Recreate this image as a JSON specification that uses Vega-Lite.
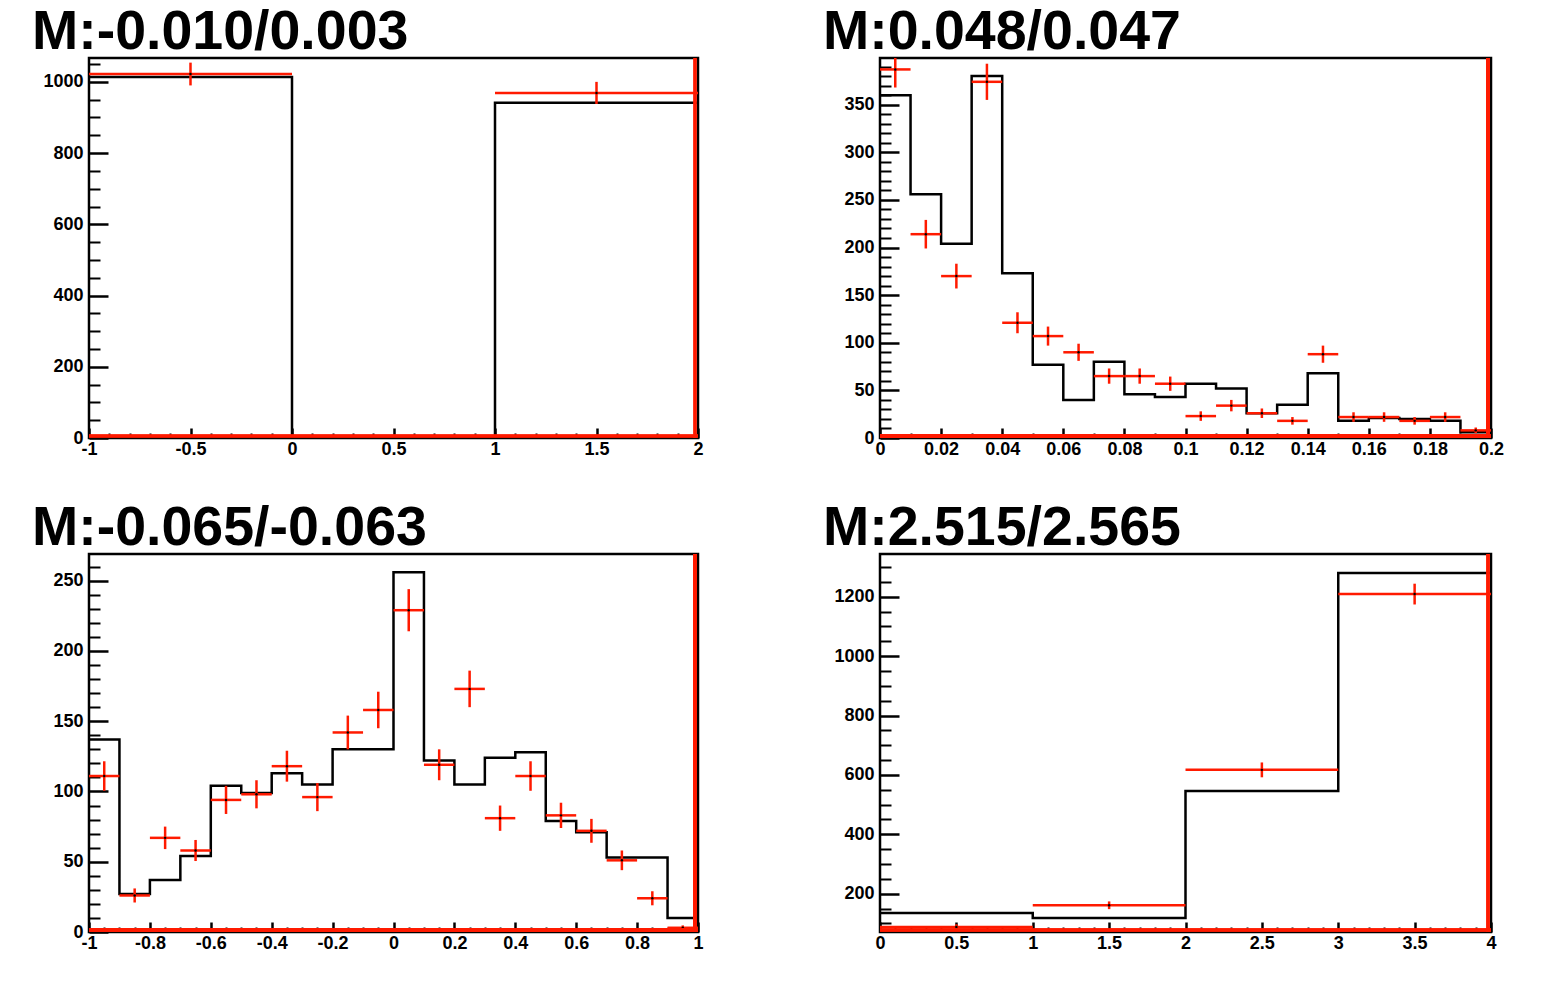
{
  "$schema": "https://vega.github.io/schema/vega-lite/v6.json",
  "background": "white",
  "padding": {"left": 30, "top": 3, "right": 5, "bottom": 5},
  "autosize": {"type": "pad"},
  "columns": 2,
  "spacing": {"row": 116, "column": 182},
  "bounds": "flush",
  "config": {
    "locale": {"number": {"decimal": ".", "thousands": ",", "grouping": [3], "currency": ["", ""], "minus": "-"}},
    "view": {"stroke": "black", "strokeWidth": 2.5},
    "axis": {
      "domain": false, "grid": false, "title": null,
      "labelFont": "Liberation Sans", "labelFontSize": 18, "labelFontWeight": "bold", "labelColor": "black",
      "labelFlush": false, "labelOverlap": false,
      "tickColor": "black", "tickWidth": 2.5, "format": ".6~g"
    },
    "title": {"font": "Liberation Sans", "fontSize": 55.5, "fontWeight": "bold", "color": "black", "anchor": "start", "frame": "group", "baseline": "alphabetic", "offset": -4, "dx": -57}
  },
  "datasets": {
    "p1": [
      {"lo": -1, "hi": 0, "x": -0.5, "mc": 1014, "data": 1022, "dlo": 990, "dhi": 1054},
      {"lo": 0, "hi": 1, "x": 0.5, "mc": 0, "data": 0, "dlo": 0, "dhi": 0},
      {"lo": 1, "hi": 2, "x": 1.5, "mc": 941, "data": 969, "dlo": 938, "dhi": 1000}
    ],
    "p2": [
      {"lo": 0, "hi": 0.01, "x": 0.005, "mc": 360, "data": 387, "dlo": 368, "dhi": 406},
      {"lo": 0.01, "hi": 0.02, "x": 0.015, "mc": 256, "data": 214, "dlo": 199, "dhi": 229},
      {"lo": 0.02, "hi": 0.03, "x": 0.025, "mc": 204, "data": 170, "dlo": 157, "dhi": 183},
      {"lo": 0.03, "hi": 0.04, "x": 0.035, "mc": 380, "data": 374, "dlo": 355, "dhi": 393},
      {"lo": 0.04, "hi": 0.05, "x": 0.045, "mc": 173, "data": 121, "dlo": 110, "dhi": 132},
      {"lo": 0.05, "hi": 0.06, "x": 0.055, "mc": 77, "data": 107, "dlo": 97, "dhi": 117},
      {"lo": 0.06, "hi": 0.07, "x": 0.065, "mc": 40, "data": 90, "dlo": 81, "dhi": 99},
      {"lo": 0.07, "hi": 0.08, "x": 0.075, "mc": 80, "data": 65, "dlo": 57, "dhi": 73},
      {"lo": 0.08, "hi": 0.09, "x": 0.085, "mc": 46, "data": 65, "dlo": 57, "dhi": 73},
      {"lo": 0.09, "hi": 0.1, "x": 0.095, "mc": 43, "data": 57, "dlo": 49.5, "dhi": 64.5},
      {"lo": 0.1, "hi": 0.11, "x": 0.105, "mc": 57, "data": 23, "dlo": 18, "dhi": 28},
      {"lo": 0.11, "hi": 0.12, "x": 0.115, "mc": 52, "data": 34, "dlo": 28, "dhi": 40},
      {"lo": 0.12, "hi": 0.13, "x": 0.125, "mc": 26, "data": 26, "dlo": 21, "dhi": 31},
      {"lo": 0.13, "hi": 0.14, "x": 0.135, "mc": 35, "data": 18, "dlo": 14, "dhi": 22},
      {"lo": 0.14, "hi": 0.15, "x": 0.145, "mc": 68, "data": 88, "dlo": 79, "dhi": 97},
      {"lo": 0.15, "hi": 0.16, "x": 0.155, "mc": 18, "data": 22, "dlo": 17, "dhi": 27},
      {"lo": 0.16, "hi": 0.17, "x": 0.165, "mc": 21, "data": 22, "dlo": 17, "dhi": 27},
      {"lo": 0.17, "hi": 0.18, "x": 0.175, "mc": 20, "data": 18, "dlo": 14, "dhi": 22},
      {"lo": 0.18, "hi": 0.19, "x": 0.185, "mc": 18, "data": 22, "dlo": 17, "dhi": 27},
      {"lo": 0.19, "hi": 0.2, "x": 0.195, "mc": 6, "data": 8, "dlo": 5, "dhi": 11}
    ],
    "p3": [
      {"lo": -1, "hi": -0.9, "x": -0.95, "mc": 137, "data": 111, "dlo": 100.5, "dhi": 121.5},
      {"lo": -0.9, "hi": -0.8, "x": -0.85, "mc": 27, "data": 26, "dlo": 21, "dhi": 31},
      {"lo": -0.8, "hi": -0.7, "x": -0.75, "mc": 37, "data": 67, "dlo": 59, "dhi": 75},
      {"lo": -0.7, "hi": -0.6, "x": -0.65, "mc": 54, "data": 58, "dlo": 50.5, "dhi": 65.5},
      {"lo": -0.6, "hi": -0.5, "x": -0.55, "mc": 104, "data": 94, "dlo": 84, "dhi": 104},
      {"lo": -0.5, "hi": -0.4, "x": -0.45, "mc": 99, "data": 98, "dlo": 88, "dhi": 108},
      {"lo": -0.4, "hi": -0.3, "x": -0.35, "mc": 113, "data": 118, "dlo": 107, "dhi": 129},
      {"lo": -0.3, "hi": -0.2, "x": -0.25, "mc": 105, "data": 96, "dlo": 86, "dhi": 106},
      {"lo": -0.2, "hi": -0.1, "x": -0.15, "mc": 130, "data": 142, "dlo": 130, "dhi": 154},
      {"lo": -0.1, "hi": 0, "x": -0.05, "mc": 130, "data": 158, "dlo": 145, "dhi": 171},
      {"lo": 0, "hi": 0.1, "x": 0.05, "mc": 256, "data": 229, "dlo": 214, "dhi": 244},
      {"lo": 0.1, "hi": 0.2, "x": 0.15, "mc": 122, "data": 119, "dlo": 108, "dhi": 130},
      {"lo": 0.2, "hi": 0.3, "x": 0.25, "mc": 105, "data": 173, "dlo": 160, "dhi": 186},
      {"lo": 0.3, "hi": 0.4, "x": 0.35, "mc": 124, "data": 81, "dlo": 72, "dhi": 90},
      {"lo": 0.4, "hi": 0.5, "x": 0.45, "mc": 128, "data": 111, "dlo": 100.5, "dhi": 121.5},
      {"lo": 0.5, "hi": 0.6, "x": 0.55, "mc": 79, "data": 83, "dlo": 74, "dhi": 92},
      {"lo": 0.6, "hi": 0.7, "x": 0.65, "mc": 71, "data": 72, "dlo": 63.5, "dhi": 80.5},
      {"lo": 0.7, "hi": 0.8, "x": 0.75, "mc": 53, "data": 51, "dlo": 44, "dhi": 58},
      {"lo": 0.8, "hi": 0.9, "x": 0.85, "mc": 53, "data": 24, "dlo": 19, "dhi": 29},
      {"lo": 0.9, "hi": 1, "x": 0.95, "mc": 10, "data": 3, "dlo": 1.3, "dhi": 4.7}
    ],
    "p4": [
      {"lo": 0, "hi": 1, "x": 0.5, "mc": 135, "data": 88, "dlo": 79, "dhi": 97},
      {"lo": 1, "hi": 2, "x": 1.5, "mc": 118, "data": 161, "dlo": 148, "dhi": 174},
      {"lo": 2, "hi": 3, "x": 2.5, "mc": 546, "data": 617, "dlo": 592, "dhi": 642},
      {"lo": 3, "hi": 4, "x": 3.5, "mc": 1280, "data": 1209, "dlo": 1174, "dhi": 1244}
    ]
  },
  "concat": [
    {
      "width": 609, "height": 380,
      "title": {"text": "M:-0.010/0.003"},
      "data": {"name": "p1"},
      "resolve": {"axis": {"x": "independent", "y": "independent"}},
      "layer": [
        {
          "transform": [{"fold": ["lo", "hi"], "as": ["side", "edge"]}],
          "mark": {"type": "line", "color": "black", "strokeWidth": 2.5, "clip": true},
          "encoding": {
            "x": {"field": "edge", "type": "quantitative", "scale": {"domain": [-1, 2], "nice": false, "zero": false},
                  "axis": {"orient": "bottom", "values": [-1, -0.5, 0, 0.5, 1, 1.5, 2], "tickSize": -10, "labelPadding": 12}},
            "y": {"field": "mc", "type": "quantitative", "scale": {"domain": [0, 1067], "nice": false, "zero": false},
                  "axis": {"orient": "left", "values": [0, 200, 400, 600, 800, 1000], "tickSize": -19, "labelPadding": 25}},
            "order": [{"field": "edge"}, {"field": "lo"}]
          }
        },
        {
          "transform": [{"filter": "datum.data > 0"}],
          "mark": {"type": "rule", "color": "#ff1a00", "strokeWidth": 2.5, "clip": true},
          "encoding": {
            "x": {"field": "lo", "type": "quantitative", "scale": {"domain": [-1, 2], "nice": false, "zero": false},
                  "axis": {"orient": "bottom", "labels": false, "tickSize": -5, "tickWidth": 2,
                           "values": [-0.9, -0.8, -0.7, -0.6, -0.4, -0.3, -0.2, -0.1, 0.1, 0.2, 0.3, 0.4, 0.6, 0.7, 0.8, 0.9, 1.1, 1.2, 1.3, 1.4, 1.6, 1.7, 1.8, 1.9]}},
            "x2": {"field": "hi"},
            "y": {"field": "data", "type": "quantitative", "scale": {"domain": [0, 1067], "nice": false, "zero": false},
                  "axis": {"orient": "left", "labels": false, "tickSize": -11, "tickWidth": 2,
                           "values": [50, 100, 150, 250, 300, 350, 450, 500, 550, 650, 700, 750, 850, 900, 950, 1050]}}
          }
        },
        {
          "transform": [{"filter": "datum.data > 0"}],
          "mark": {"type": "rule", "color": "#ff1a00", "strokeWidth": 2.5, "clip": true},
          "encoding": {
            "x": {"field": "x", "type": "quantitative", "axis": null},
            "y": {"field": "dlo", "type": "quantitative", "axis": null},
            "y2": {"field": "dhi"}
          }
        },
        {
          "transform": [{"filter": "datum.data > 0"}],
          "mark": {"type": "point", "filled": true, "color": "black", "size": 6, "opacity": 1},
          "encoding": {
            "x": {"field": "x", "type": "quantitative", "axis": null},
            "y": {"field": "data", "type": "quantitative", "axis": null}
          }
        },
        {
          "mark": {"type": "rule", "color": "#ff1a00", "strokeWidth": 3, "yOffset": -2},
          "encoding": {"y": {"datum": 0, "type": "quantitative", "axis": null}}
        },
        {
          "mark": {"type": "rule", "color": "#ff1a00", "strokeWidth": 3, "xOffset": -3},
          "encoding": {"x": {"datum": 2, "type": "quantitative", "axis": null}}
        }
      ]
    },
    {
      "width": 611, "height": 380,
      "title": {"text": "M:0.048/0.047"},
      "data": {"name": "p2"},
      "resolve": {"axis": {"x": "independent", "y": "independent"}},
      "layer": [
        {
          "transform": [{"fold": ["lo", "hi"], "as": ["side", "edge"]}],
          "mark": {"type": "line", "color": "black", "strokeWidth": 2.5, "clip": true},
          "encoding": {
            "x": {"field": "edge", "type": "quantitative", "scale": {"domain": [0, 0.2], "nice": false, "zero": false},
                  "axis": {"orient": "bottom", "values": [0, 0.02, 0.04, 0.06, 0.08, 0.1, 0.12, 0.14, 0.16, 0.18, 0.2], "tickSize": -10, "labelPadding": 12}},
            "y": {"field": "mc", "type": "quantitative", "scale": {"domain": [0, 399], "nice": false, "zero": false},
                  "axis": {"orient": "left", "values": [0, 50, 100, 150, 200, 250, 300, 350], "tickSize": -19, "labelPadding": 25}},
            "order": [{"field": "edge"}, {"field": "lo"}]
          }
        },
        {
          "transform": [{"filter": "datum.data > 0"}],
          "mark": {"type": "rule", "color": "#ff1a00", "strokeWidth": 2.5, "clip": true},
          "encoding": {
            "x": {"field": "lo", "type": "quantitative", "scale": {"domain": [0, 0.2], "nice": false, "zero": false},
                  "axis": {"orient": "bottom", "labels": false, "tickSize": -5, "tickWidth": 2,
                           "values": [0.01, 0.03, 0.05, 0.07, 0.09, 0.11, 0.13, 0.15, 0.17, 0.19]}},
            "x2": {"field": "hi"},
            "y": {"field": "data", "type": "quantitative", "scale": {"domain": [0, 399], "nice": false, "zero": false},
                  "axis": {"orient": "left", "labels": false, "tickSize": -11, "tickWidth": 2,
                           "values": [10, 20, 30, 40, 60, 70, 80, 90, 110, 120, 130, 140, 160, 170, 180, 190, 210, 220, 230, 240, 260, 270, 280, 290, 310, 320, 330, 340, 360, 370, 380, 390]}}
          }
        },
        {
          "transform": [{"filter": "datum.data > 0"}],
          "mark": {"type": "rule", "color": "#ff1a00", "strokeWidth": 2.5, "clip": true},
          "encoding": {
            "x": {"field": "x", "type": "quantitative", "axis": null},
            "y": {"field": "dlo", "type": "quantitative", "axis": null},
            "y2": {"field": "dhi"}
          }
        },
        {
          "transform": [{"filter": "datum.data > 0"}],
          "mark": {"type": "point", "filled": true, "color": "black", "size": 6, "opacity": 1},
          "encoding": {
            "x": {"field": "x", "type": "quantitative", "axis": null},
            "y": {"field": "data", "type": "quantitative", "axis": null}
          }
        },
        {
          "mark": {"type": "rule", "color": "#ff1a00", "strokeWidth": 3, "yOffset": -2},
          "encoding": {"y": {"datum": 0, "type": "quantitative", "axis": null}}
        },
        {
          "mark": {"type": "rule", "color": "#ff1a00", "strokeWidth": 3, "xOffset": -3},
          "encoding": {"x": {"datum": 0.2, "type": "quantitative", "axis": null}}
        }
      ]
    },
    {
      "width": 609, "height": 378,
      "title": {"text": "M:-0.065/-0.063"},
      "data": {"name": "p3"},
      "resolve": {"axis": {"x": "independent", "y": "independent"}},
      "layer": [
        {
          "transform": [{"fold": ["lo", "hi"], "as": ["side", "edge"]}],
          "mark": {"type": "line", "color": "black", "strokeWidth": 2.5, "clip": true},
          "encoding": {
            "x": {"field": "edge", "type": "quantitative", "scale": {"domain": [-1, 1], "nice": false, "zero": false},
                  "axis": {"orient": "bottom", "values": [-1, -0.8, -0.6, -0.4, -0.2, 0, 0.2, 0.4, 0.6, 0.8, 1], "tickSize": -10, "labelPadding": 12}},
            "y": {"field": "mc", "type": "quantitative", "scale": {"domain": [0, 269], "nice": false, "zero": false},
                  "axis": {"orient": "left", "values": [0, 50, 100, 150, 200, 250], "tickSize": -19, "labelPadding": 25}},
            "order": [{"field": "edge"}, {"field": "lo"}]
          }
        },
        {
          "transform": [{"filter": "datum.data > 0"}],
          "mark": {"type": "rule", "color": "#ff1a00", "strokeWidth": 2.5, "clip": true},
          "encoding": {
            "x": {"field": "lo", "type": "quantitative", "scale": {"domain": [-1, 1], "nice": false, "zero": false},
                  "axis": {"orient": "bottom", "labels": false, "tickSize": -5, "tickWidth": 2,
                           "values": [-0.95, -0.9, -0.85, -0.75, -0.7, -0.65, -0.55, -0.5, -0.45, -0.35, -0.3, -0.25, -0.15, -0.1, -0.05, 0.05, 0.1, 0.15, 0.25, 0.3, 0.35, 0.45, 0.5, 0.55, 0.65, 0.7, 0.75, 0.85, 0.9, 0.95]}},
            "x2": {"field": "hi"},
            "y": {"field": "data", "type": "quantitative", "scale": {"domain": [0, 269], "nice": false, "zero": false},
                  "axis": {"orient": "left", "labels": false, "tickSize": -11, "tickWidth": 2,
                           "values": [10, 20, 30, 40, 60, 70, 80, 90, 110, 120, 130, 140, 160, 170, 180, 190, 210, 220, 230, 240, 260]}}
          }
        },
        {
          "transform": [{"filter": "datum.data > 0"}],
          "mark": {"type": "rule", "color": "#ff1a00", "strokeWidth": 2.5, "clip": true},
          "encoding": {
            "x": {"field": "x", "type": "quantitative", "axis": null},
            "y": {"field": "dlo", "type": "quantitative", "axis": null},
            "y2": {"field": "dhi"}
          }
        },
        {
          "transform": [{"filter": "datum.data > 0"}],
          "mark": {"type": "point", "filled": true, "color": "black", "size": 6, "opacity": 1},
          "encoding": {
            "x": {"field": "x", "type": "quantitative", "axis": null},
            "y": {"field": "data", "type": "quantitative", "axis": null}
          }
        },
        {
          "mark": {"type": "rule", "color": "#ff1a00", "strokeWidth": 3, "yOffset": -2},
          "encoding": {"y": {"datum": 0, "type": "quantitative", "axis": null}}
        },
        {
          "mark": {"type": "rule", "color": "#ff1a00", "strokeWidth": 3, "xOffset": -3},
          "encoding": {"x": {"datum": 1, "type": "quantitative", "axis": null}}
        }
      ]
    },
    {
      "width": 611, "height": 378,
      "title": {"text": "M:2.515/2.565"},
      "data": {"name": "p4"},
      "resolve": {"axis": {"x": "independent", "y": "independent"}},
      "layer": [
        {
          "transform": [{"fold": ["lo", "hi"], "as": ["side", "edge"]}],
          "mark": {"type": "line", "color": "black", "strokeWidth": 2.5, "clip": true},
          "encoding": {
            "x": {"field": "edge", "type": "quantitative", "scale": {"domain": [0, 4], "nice": false, "zero": false},
                  "axis": {"orient": "bottom", "values": [0, 0.5, 1, 1.5, 2, 2.5, 3, 3.5, 4], "tickSize": -10, "labelPadding": 12}},
            "y": {"field": "mc", "type": "quantitative", "scale": {"domain": [71, 1344], "nice": false, "zero": false},
                  "axis": {"orient": "left", "values": [200, 400, 600, 800, 1000, 1200], "tickSize": -19, "labelPadding": 25}},
            "order": [{"field": "edge"}, {"field": "lo"}]
          }
        },
        {
          "transform": [{"filter": "datum.data > 0"}],
          "mark": {"type": "rule", "color": "#ff1a00", "strokeWidth": 2.5, "clip": true},
          "encoding": {
            "x": {"field": "lo", "type": "quantitative", "scale": {"domain": [0, 4], "nice": false, "zero": false},
                  "axis": {"orient": "bottom", "labels": false, "tickSize": -5, "tickWidth": 2,
                           "values": [0.1, 0.2, 0.3, 0.4, 0.6, 0.7, 0.8, 0.9, 1.1, 1.2, 1.3, 1.4, 1.6, 1.7, 1.8, 1.9, 2.1, 2.2, 2.3, 2.4, 2.6, 2.7, 2.8, 2.9, 3.1, 3.2, 3.3, 3.4, 3.6, 3.7, 3.8, 3.9]}},
            "x2": {"field": "hi"},
            "y": {"field": "data", "type": "quantitative", "scale": {"domain": [71, 1344], "nice": false, "zero": false},
                  "axis": {"orient": "left", "labels": false, "tickSize": -11, "tickWidth": 2,
                           "values": [100, 150, 250, 300, 350, 450, 500, 550, 650, 700, 750, 850, 900, 950, 1050, 1100, 1150, 1250, 1300]}}
          }
        },
        {
          "transform": [{"filter": "datum.data > 0"}],
          "mark": {"type": "rule", "color": "#ff1a00", "strokeWidth": 2.5, "clip": true},
          "encoding": {
            "x": {"field": "x", "type": "quantitative", "axis": null},
            "y": {"field": "dlo", "type": "quantitative", "axis": null},
            "y2": {"field": "dhi"}
          }
        },
        {
          "transform": [{"filter": "datum.data > 0"}],
          "mark": {"type": "point", "filled": true, "color": "black", "size": 6, "opacity": 1},
          "encoding": {
            "x": {"field": "x", "type": "quantitative", "axis": null},
            "y": {"field": "data", "type": "quantitative", "axis": null}
          }
        },
        {
          "mark": {"type": "rule", "color": "#ff1a00", "strokeWidth": 3, "yOffset": -2},
          "encoding": {"y": {"datum": 71, "type": "quantitative", "axis": null}}
        },
        {
          "mark": {"type": "rule", "color": "#ff1a00", "strokeWidth": 3, "xOffset": -3},
          "encoding": {"x": {"datum": 4, "type": "quantitative", "axis": null}}
        }
      ]
    }
  ]
}
